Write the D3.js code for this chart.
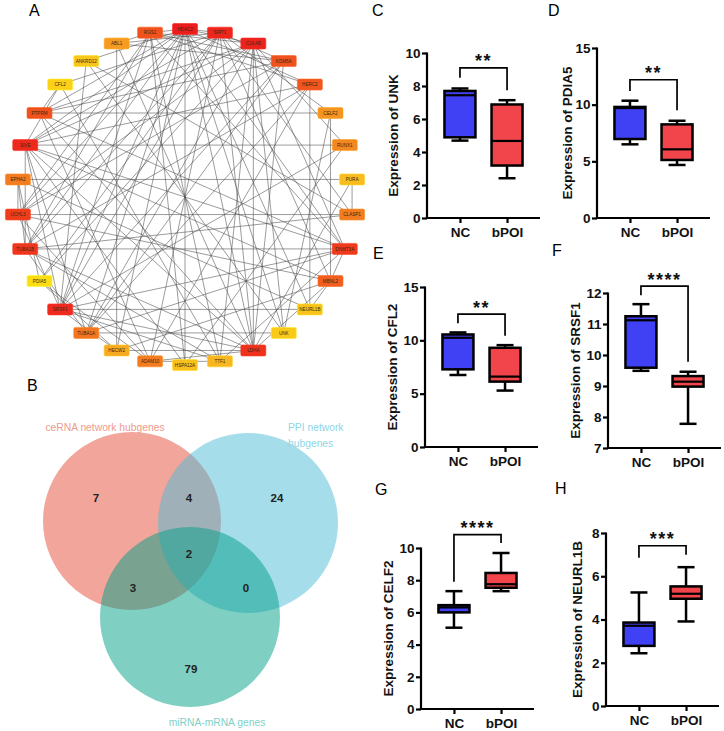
<!DOCTYPE html>
<html><head><meta charset="utf-8">
<script src="https://cdn.jsdelivr.net/npm/d3@7"></script>
<style>
body{margin:0;background:#fff}
svg{display:block;font-family:"Liberation Sans",Arial,sans-serif}
</style>
</head><body>
<svg id="fig" width="724" height="731"></svg>
<script>
// ---------- Panel A: network ----------
const netNodes = ["HDAC2","SIRT1","CUL4B","KDM5A","HERC2","CELF2","RUNX1","PURA","CLASP1","DNMT3A","MBNL2","NEURL1B","UNK","LDHA","TTF1","HSPA12A","ADAM10","HECW2","TUBA1A","SRSF1","PDIA5","TUBA1B","UCHL3","EPHA2","SIVE","PTPRM","CFL2","ANKRD12","ABL1","RGS1"];
const netScores = [1.0,0.95,0.97,0.74,0.72,0.45,0.5,0.25,0.55,0.85,0.68,0.2,0.15,0.9,0.28,0.22,0.55,0.35,0.58,0.93,0.03,0.88,0.84,0.55,0.94,0.74,0.1,0.18,0.42,0.74];
const netEdges = [
 [0,2],[0,4],[0,9],[0,12],[0,13],[0,15],[0,17],[0,19],[0,21],[0,22],[0,24],[0,25],[0,27],[0,29],[0,1],[0,18],[0,11],
 [1,3],[1,5],[1,8],[1,13],[1,16],[1,19],[1,21],[1,24],[1,26],[1,28],[1,10],[1,20],
 [2,6],[2,9],[2,13],[2,14],[2,18],[2,22],[2,24],[2,25],[2,29],[2,12],[2,20],
 [13,3],[13,7],[13,10],[13,17],[13,19],[13,21],[13,24],[13,25],[13,28],[13,16],
 [19,3],[19,6],[19,9],[19,11],[19,14],[19,22],[19,24],[19,27],[19,29],[19,17],
 [24,6],[24,9],[24,10],[24,15],[24,18],[24,21],[24,4],[24,26],
 [21,4],[21,9],[21,14],[21,29],[21,18],[21,8],[21,23],
 [22,8],[22,3],[22,10],[22,16],[22,29],[22,23],
 [9,25],[9,29],[9,14],[9,18],[9,10],
 [25,3],[25,16],[25,5],[25,26],
 [4,11],[4,29],[4,16],[4,18],
 [3,29],[3,18],[3,28],
 [28,17],[7,8],[5,12],[5,10],[6,15],[12,27],[11,23],[14,29],[16,20],[17,20],[20,23],[26,14],[27,8],[10,17],[15,29],[23,7],[12,18],[29,28],[14,16],[11,10]
];

// ---------- Panel B: Venn ----------
const vennSets = ["ceRNA network hubgenes","PPI network\nhubgenes","miRNA-mRNA genes"];
const vennRegions = ["A","AB","B","ABC","AC","BC","C"];
const vennValues = [7,4,24,2,3,0,79];

// ---------- Panels C-H: box plots ----------
const panelLetters = ["C","D","E","F","G","H"];
const boxGenes = ["UNK","PDIA5","CFL2","SRSF1","CELF2","NEURL1B"];
const groups = ["NC","bPOI"];
// [min, q1, median, q3, max]
const ncStats = [
 [4.69,4.89,7.44,7.70,7.85],
 [6.50,6.97,9.70,9.80,10.35],
 [6.75,7.28,10.24,10.55,10.74],
 [9.49,9.59,11.12,11.25,11.64],
 [5.05,6.00,6.31,6.45,7.32],
 [2.44,2.78,3.71,3.86,5.25]];
const bpoiStats = [
 [2.41,3.18,4.67,6.88,7.14],
 [4.68,5.12,6.06,8.26,8.58],
 [5.29,6.13,6.60,9.30,9.55],
 [7.78,8.98,9.14,9.32,9.46],
 [7.32,7.53,7.75,8.45,9.69],
 [3.91,4.96,5.19,5.53,6.42]];
const yDomains = [[0,10],[0,15],[0,15],[7,12],[0,10],[0,8]];
const yTicks = [[0,2,4,6,8,10],[0,5,10,15],[0,5,10,15],[7,8,9,10,11,12],[0,2,4,6,8,10],[0,2,4,6,8]];
const sigLabels = ["**","**","**","****","****","***"];
// bracket levels in data units: [top, NC arm end, bPOI arm end]
const sigBrackets = [[9.1,8.5,7.75],[12.2,11.2,9.5],[12.45,11.6,10.43],[12.22,11.93,9.78],[10.83,7.9,10.31],[7.41,6.86,7.0]];

const svg = d3.select("#fig");

// ===== Network =====
(function(){
  const cx = 185, cy = 197, R = 168;
  const ang = d3.scaleLinear().domain([0, netNodes.length]).range([-Math.PI/2, 1.5*Math.PI]);
  const col = d3.scaleLinear().domain([0,0.33,0.66,1]).range(["#fbe014","#f7b022","#f1621f","#ec1c1c"]);
  const pos = netNodes.map((d,i)=>[cx + R*Math.cos(ang(i)), cy + R*Math.sin(ang(i))]);
  const g = svg.append("g");
  g.selectAll("line.e").data(netEdges).join("line")
    .attr("x1",d=>pos[d[0]][0]).attr("y1",d=>pos[d[0]][1])
    .attr("x2",d=>pos[d[1]][0]).attr("y2",d=>pos[d[1]][1])
    .attr("stroke","#4a4a4a").attr("stroke-width",0.65).attr("stroke-opacity",0.85);
  const n = g.selectAll("g.n").data(netNodes).join("g")
    .attr("transform",(d,i)=>`translate(${pos[i][0]},${pos[i][1]})`);
  n.append("rect").attr("x",-12.5).attr("y",-5.5).attr("width",25).attr("height",11).attr("rx",1.5)
    .attr("fill",(d,i)=>col(netScores[i])).attr("stroke",(d,i)=>d3.color(col(netScores[i])).brighter(0.4)).attr("stroke-width",0.6);
  n.append("text").attr("text-anchor","middle").attr("dy","0.35em").attr("font-size",4.6).attr("fill","#3a2a10").text(d=>d);
  svg.append("text").attr("x",29).attr("y",16).attr("font-size",16).text("A");
})();

// ===== Venn =====
(function(){
  svg.append("text").attr("x",27).attr("y",391).attr("font-size",16).text("B");
  const circles = [
    {cx:132, cy:521, r:89, fill:"#E64B35", lab:"#ef9a8e"},
    {cx:248, cy:523, r:90, fill:"#4DBBD5", lab:"#8fd5e5"},
    {cx:190, cy:617, r:90, fill:"#00A087", lab:"#7fd0c5"}];
  svg.selectAll("circle.v").data(circles).join("circle")
    .attr("cx",d=>d.cx).attr("cy",d=>d.cy).attr("r",d=>d.r)
    .attr("fill",d=>d.fill).attr("fill-opacity",0.5);
  svg.append("text").attr("x",105).attr("y",431).attr("text-anchor","middle").attr("font-size",10.3)
    .attr("fill",circles[0].lab).text(vennSets[0]);
  const pl = svg.append("text").attr("x",288).attr("y",431).attr("font-size",10.3).attr("fill",circles[1].lab);
  vennSets[1].split("\n").forEach((s,i)=>pl.append("tspan").attr("x",288).attr("dy",i?16:0).text(s));
  svg.append("text").attr("x",217).attr("y",726).attr("text-anchor","middle").attr("font-size",10.3)
    .attr("fill",circles[2].lab).text(vennSets[2]);
  const ox = d3.mean(circles,d=>d.cx), oy = d3.mean(circles,d=>d.cy);
  const off = {A:[-94,-56],AB:[-1,-56],B:[87,-56],ABC:[-1,0],AC:[-57,34],BC:[56,34],C:[1,115]};
  svg.selectAll("text.vn").data(vennRegions).join("text")
    .attr("x",d=>ox+off[d][0]).attr("y",d=>oy+off[d][1]).attr("dy","0.35em")
    .attr("text-anchor","middle").attr("font-size",11.5).attr("font-weight","bold").attr("fill","#222")
    .text((d,i)=>vennValues[i]);
})();

// ===== Box plots =====
const layout = [
  {x0:427, yTop:53,  yBot:218, lx:372, ly:16,  ylx:393},
  {x0:597, yTop:48,  yBot:218, lx:548, ly:16,  ylx:567},
  {x0:425, yTop:287, yBot:447, lx:373, ly:259, ylx:392},
  {x0:608, yTop:293, yBot:448, lx:552, ly:256, ylx:575},
  {x0:421, yTop:548, yBot:709, lx:375, ly:495, ylx:388},
  {x0:606, yTop:533, yBot:706, lx:555, ly:494, ylx:577}];
const boxFill = {NC:"#4040f4", bPOI:"#f2454b"};

boxGenes.forEach((gene,k)=>{
  const L = layout[k];
  const g = svg.append("g");
  const x = d3.scalePoint().domain(groups).range([L.x0, L.x0+113]).padding(0.7);
  const y = d3.scaleLinear().domain(yDomains[k]).range([L.yBot, L.yTop]);
  svg.append("text").attr("x",L.lx).attr("y",L.ly).attr("font-size",16).text(panelLetters[k]);
  const ya = g.append("g").attr("transform",`translate(${L.x0},0)`)
    .call(d3.axisLeft(y).tickValues(yTicks[k]).tickSize(5).tickPadding(1.5).tickFormat(d3.format("d")));
  ya.select(".domain").attr("stroke-width",2.2).attr("d",`M0,${L.yTop-0.5}V${L.yBot}`);
  ya.selectAll(".tick line").attr("stroke-width",2.2);
  ya.selectAll("text").attr("font-size",13.5).attr("font-weight","bold").attr("font-family","Liberation Sans, Arial").attr("fill","#111");
  const xa = g.append("g").attr("transform",`translate(0,${L.yBot})`)
    .call(d3.axisBottom(x).tickSize(5).tickPadding(4));
  xa.select(".domain").attr("stroke-width",2.2).attr("d",`M${L.x0-1.1},0H${L.x0+113}`);
  xa.selectAll(".tick line").attr("stroke-width",2.2);
  xa.selectAll("text").attr("font-size",13.5).attr("font-weight","bold").attr("font-family","Liberation Sans, Arial").attr("fill","#111");
  g.append("text").attr("transform",`translate(${L.ylx},${(L.yTop+L.yBot)/2}) rotate(-90)`)
    .attr("text-anchor","middle").attr("dy","0.35em").attr("font-size",13.5).attr("font-weight","bold").attr("fill","#111")
    .text("Expression of "+gene);
  const stats = [ncStats[k], bpoiStats[k]];
  const bw = 31, cw = 17;
  groups.forEach((grp,j)=>{
    const s = stats[j], cxp = x(grp);
    const bg = g.append("g").attr("stroke","#000").attr("stroke-width",2.5);
    bg.append("line").attr("x1",cxp).attr("x2",cxp).attr("y1",y(s[4])).attr("y2",y(s[3]));
    bg.append("line").attr("x1",cxp).attr("x2",cxp).attr("y1",y(s[1])).attr("y2",y(s[0]));
    bg.append("line").attr("x1",cxp-cw/2).attr("x2",cxp+cw/2).attr("y1",y(s[4])).attr("y2",y(s[4]));
    bg.append("line").attr("x1",cxp-cw/2).attr("x2",cxp+cw/2).attr("y1",y(s[0])).attr("y2",y(s[0]));
    bg.append("rect").attr("x",cxp-bw/2).attr("width",bw).attr("y",y(s[3])).attr("height",y(s[1])-y(s[3]))
      .attr("fill",boxFill[grp]);
    bg.append("line").attr("x1",cxp-bw/2).attr("x2",cxp+bw/2).attr("y1",y(s[2])).attr("y2",y(s[2])).attr("stroke-width",2.2);
  });
  const b = sigBrackets[k];
  g.append("path").attr("fill","none").attr("stroke","#000").attr("stroke-width",1.7)
    .attr("d",`M${x("NC")},${y(b[1])}V${y(b[0])}H${x("bPOI")}V${y(b[2])}`);
  g.append("text").attr("x",(x("NC")+x("bPOI"))/2).attr("y",y(b[0])-0.5).attr("text-anchor","middle")
    .attr("font-size",18).attr("font-weight","bold").attr("letter-spacing",1.5).attr("fill","#111").text(sigLabels[k]);
});
</script>
</body></html>
